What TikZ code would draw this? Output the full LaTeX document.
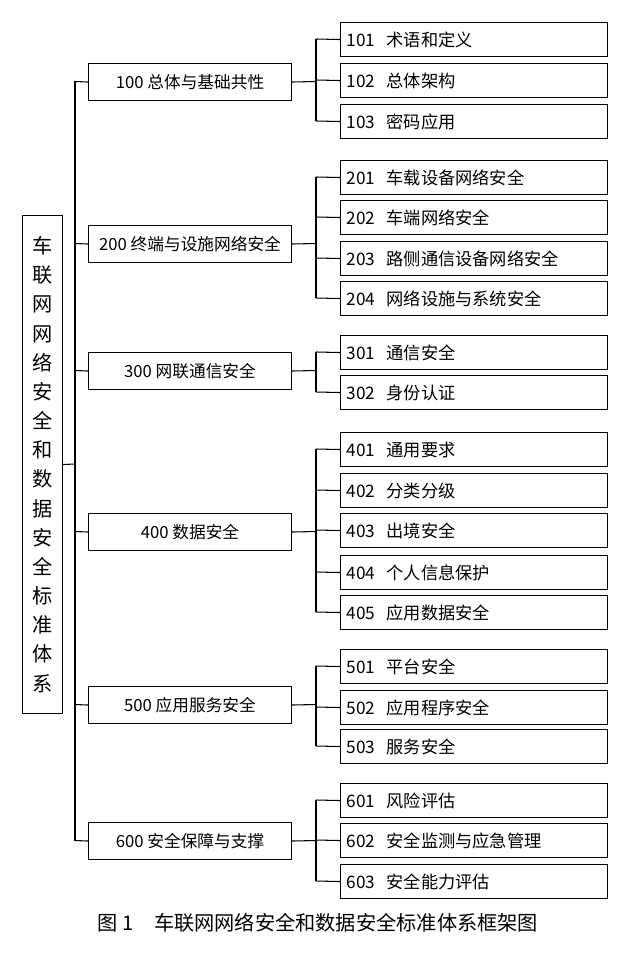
\documentclass[tikz,border=0pt]{standalone}
\usepackage{fontspec}
\setmainfont{Noto Sans CJK SC}
\setsansfont{Noto Sans CJK SC}
\begin{document}
\begin{tikzpicture}[x={(0.02cm,0)},y={(0,-0.02cm)},
  box/.style={draw,line width=0.6pt,anchor=north west,inner sep=0pt,font=\fontsize{9.8pt}{12pt}\selectfont},
  ln/.style={line width=0.6pt}]
\useasboundingbox (0,0) rectangle (630,955);
% root
\node[draw,line width=0.6pt,minimum width=40*0.02cm,minimum height=498*0.02cm,anchor=north west,inner sep=0pt,
  align=center,font=\fontsize{11.5pt}{16.6pt}\selectfont] (root) at (22,215)
  {车\\联\\网\\网\\络\\安\\全\\和\\数\\据\\安\\全\\标\\准\\体\\系};
\coordinate (t1) at (75,81);
\coordinate (t6) at (75,841);
\draw[ln] (t1) -- (t6);
\draw[ln] (root.east) -- (75,464);
% level 1
\foreach \n/\y/\t in {a/63/{100\ 总体与基础共性},b/225/{200\ 终端与设施网络安全},c/352/{300\ 网联通信安全},d/513/{400\ 数据安全},e/686/{500\ 应用服务安全},f/822/{600\ 安全保障与支撑}}{
  \node[box,minimum width=203*0.02cm,minimum height=37*0.02cm,font=\fontsize{9.5pt}{12pt}\selectfont] (L\n) at (88,\y) {\t};
  \draw[ln] (75,\y+18.5) -- (L\n.west);
}
% level 2
\newcommand{\leaf}[3]{%
  \node[box,minimum width=267*0.02cm,minimum height=34*0.02cm,text width=255*0.02cm,align=left] (#1) at (340,#2-17) {#3};
  \draw[ln] (316,#2) -- (#1.west);}
\leaf{n101}{39}{101\ \ 术语和定义}
\leaf{n102}{80}{102\ \ 总体架构}
\leaf{n103}{121}{103\ \ 密码应用}
\leaf{n201}{177}{201\ \ 车载设备网络安全}
\leaf{n202}{217}{202\ \ 车端网络安全}
\leaf{n203}{258}{203\ \ 路侧通信设备网络安全}
\leaf{n204}{298}{204\ \ 网络设施与系统安全}
\leaf{n301}{352}{301\ \ 通信安全}
\leaf{n302}{392}{302\ \ 身份认证}
\leaf{n401}{449}{401\ \ 通用要求}
\leaf{n402}{490}{402\ \ 分类分级}
\leaf{n403}{530}{403\ \ 出境安全}
\leaf{n404}{572}{404\ \ 个人信息保护}
\leaf{n405}{612}{405\ \ 应用数据安全}
\leaf{n501}{666}{501\ \ 平台安全}
\leaf{n502}{707}{502\ \ 应用程序安全}
\leaf{n503}{746}{503\ \ 服务安全}
\leaf{n601}{800}{601\ \ 风险评估}
\leaf{n602}{840}{602\ \ 安全监测与应急管理}
\leaf{n603}{881}{603\ \ 安全能力评估}
\draw[ln] (La.east) -- (316,81.5); \draw[ln] (316,39) -- (316,121);
\draw[ln] (Lb.east) -- (316,243.5); \draw[ln] (316,177) -- (316,298);
\draw[ln] (Lc.east) -- (316,370.5); \draw[ln] (316,352) -- (316,392);
\draw[ln] (Ld.east) -- (316,531.5); \draw[ln] (316,449) -- (316,612);
\draw[ln] (Le.east) -- (316,704.5); \draw[ln] (316,666) -- (316,746);
\draw[ln] (Lf.east) -- (316,840.5); \draw[ln] (316,800) -- (316,881);
\node[font=\fontsize{11.5pt}{13pt}\selectfont] (cap) at (318,923) {图 1\quad 车联网网络安全和数据安全标准体系框架图};
\end{tikzpicture}
\end{document}
